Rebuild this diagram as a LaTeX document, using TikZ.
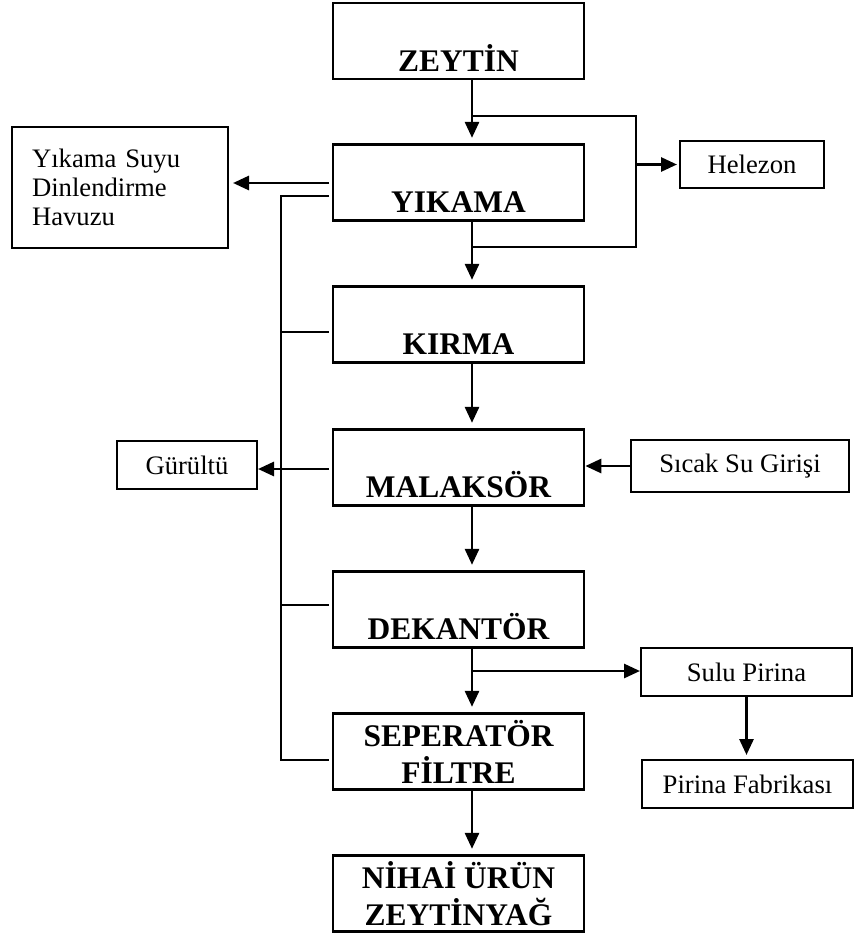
\documentclass[tikz,border=0pt]{standalone}
\usepackage{fontspec}
\setmainfont{Liberation Serif}
\usetikzlibrary{arrows.meta}

\begin{document}
\begin{tikzpicture}[x=0.75pt, y=-0.75pt,
  stagebox/.style={draw, line width=2pt, inner sep=0pt, minimum width=188.25pt,
    minimum height=57pt, font=\bfseries\fontsize{23.6}{27.75}\selectfont},
  lowtext/.style={text height=51pt, text depth=6pt},
  twoline/.style={align=center},
  sidebox/.style={draw, line width=1.5pt, inner sep=0pt, minimum height=36pt,
    font=\fontsize{20}{22}\selectfont},
  flow/.style={line width=2.1pt, -{Triangle[length=12pt,width=10.5pt]}},
  link/.style={line width=1.5pt},
]
\useasboundingbox (0,0) rectangle (854,936);

% main process column
\node[stagebox, lowtext] (zeytin)   at (458.5,41)    {ZEYTİN};
\node[stagebox, lowtext] (yikama)   at (458.5,182.5) {YIKAMA};
\node[stagebox, lowtext] (kirma)    at (458.5,324.5) {KIRMA};
\node[stagebox, lowtext] (malaksor) at (458.5,467.5) {MALAKSÖR};
\node[stagebox, lowtext] (dekantor) at (458.5,609.5) {DEKANTÖR};
\node[stagebox, twoline] (separator) at (458.5,751.5) {SEPERATÖR\\FİLTRE};
\node[stagebox, twoline] (nihai)    at (458.5,893.5) {NİHAİ ÜRÜN\\ZEYTİNYAĞ};

% side boxes
\node[sidebox, minimum height=90.75pt, inner xsep=15pt, text width=132pt, align=left]
  (havuz) at (120,187.5) {Yıkama Suyu\\Dinlendirme\\Havuzu};
\node[sidebox, minimum width=108pt, minimum height=35.25pt] (helezon) at (752,164.5) {Helezon};
\node[sidebox, minimum width=105pt] (gurultu) at (187,465) {Gürültü};
\node[sidebox, minimum width=163.5pt, minimum height=39pt] (sicak) at (740,466) {Sıcak Su Girişi};
\node[sidebox, minimum width=158.25pt] (sulu) at (746.5,672) {Sulu Pirina};
\node[sidebox, minimum width=158.25pt] (fabrika) at (747.5,784) {Pirina Fabrikası};

% guide coordinates
\coordinate (spine) at (472,0);
\coordinate (bus) at (281,0);
\coordinate (loopR) at (636,0);

% main downward flow
\foreach \a/\b in {zeytin/yikama, yikama/kirma, kirma/malaksor,
                   malaksor/dekantor, dekantor/separator, separator/nihai}
  \draw[flow, shorten >=4pt] (\a.south -| spine) -- (\b.north -| spine);

% bypass loop around washing, feeding the screw conveyor
\coordinate (lt) at (472,116);
\coordinate (lb) at (472,247);
\draw[link] (lt) -| (loopR |- lb) -- (lb);
\draw[flow, shorten >=1.5pt] (loopR |- helezon.west) -- (helezon.west);

% washing water outlet
\coordinate (hw) at (329,183);
\draw[flow, shorten >=3pt] (hw) -- (hw -| havuz.east);

% noise collection bus on the left
\coordinate (bt) at (329,196);
\coordinate (bb) at (329,760);
\coordinate (bk) at (329,332);
\coordinate (bd) at (329,605);
\draw[link] (bt) -- (bt -| bus) -- (bb -| bus) -- (bb);
\draw[link] (bk -| bus) -- (bk);
\draw[link] (bd -| bus) -- (bd);
\coordinate (gm) at (329,469);
\draw[flow] (gm) -- (gm -| gurultu.east);

% hot water inlet
\draw[flow] (sicak.west) -- (sicak.west -| malaksor.east);

% wet pomace branch
\coordinate (sp) at (472,671);
\draw[flow] (sp) -- (sp -| sulu.west);
\draw[flow, shorten >=3pt] (sulu.south) -- (sulu.south |- fabrika.north);
\end{tikzpicture}
\end{document}
